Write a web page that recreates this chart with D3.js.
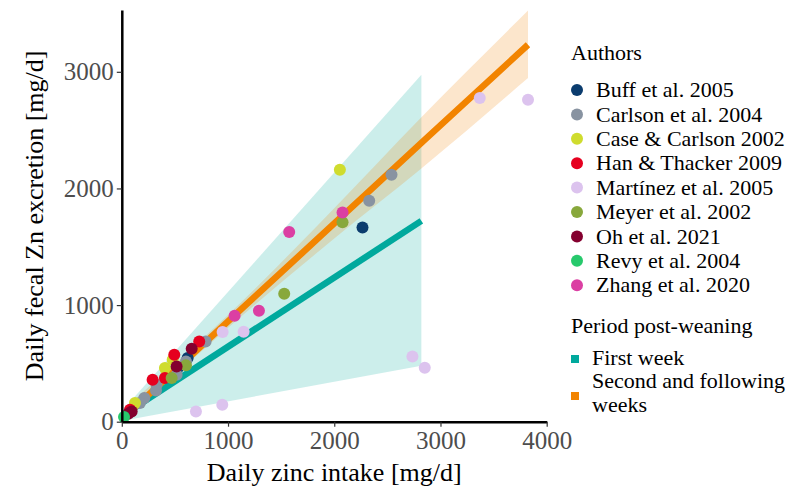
<!DOCTYPE html>
<html>
<head>
<meta charset="utf-8">
<script src="https://cdn.jsdelivr.net/npm/d3@7"></script>
<style>
    body { margin: 0; background: #fff; }
    svg text { font-family: "Liberation Serif", Tinos, "Times New Roman", "Nimbus Roman", "DejaVu Serif", serif !important; }
</style>
</head>
<body>
<div id="chart"></div>
<script>
// daily zinc intake vs daily fecal zinc excretion, one array of [intake, excretion] per study
const buff = [[2266, 1666], [620, 546], [529, 463]];
const carlson = [[2539, 2117], [2329, 1894], [789, 688], [604, 517], [516, 403], [328, 317], [322, 268], [212, 203], [171, 160]];
const caseCarlson = [[2053, 2160], [479, 531], [406, 460], [124, 160]];
const hanThacker = [[729, 688], [494, 574], [406, 374], [290, 360], [77, 103]];
const martinez = [[949, 769], [1147, 771], [2736, 560], [2852, 463], [946, 146], [698, 88], [3370, 2775], [3824, 2760]];
const meyer = [[2078, 1711], [1529, 1097], [604, 483], [469, 374]];
const oh = [[658, 626], [516, 474], [93, 88], [61, 68]];
const revy = [[21, 40]];
const zhang = [[2078, 1794], [1576, 1626], [1062, 909], [1291, 951]];

const authorNames = ["Buff et al. 2005", "Carlson et al. 2004", "Case & Carlson 2002", "Han & Thacker 2009",
    "Martínez et al. 2005", "Meyer et al. 2002", "Oh et al. 2021", "Revy et al. 2004", "Zhang et al. 2020"];
const authorPoints = [buff, carlson, caseCarlson, hanThacker, martinez, meyer, oh, revy, zhang];
const authorColors = ["#0b3c6e", "#8893a1", "#cfdc2e", "#e6001f", "#dcc3ee", "#88a83c", "#84002f", "#27c96c", "#db3fa3"];

// fitted lines and confidence ribbons
const firstWeekIntake = [20, 2820];
const firstWeekFit = [62, 1722];
const firstWeekLower = [10, 480];
const firstWeekUpper = [110, 2975];

const laterIntake = [20, 1000, 2000, 2820, 3824];
const laterFit = [37, 860, 1700, 2390, 3232];
const laterLower = [0, 805, 1570, 2170, 2946];
const laterUpper = [110, 915, 1830, 2610, 3525];

const periodNames = ["First week", "Second and following weeks"];
const periodColors = ["#00a99d", "#f28400"];

const xTicks = [0, 1000, 2000, 3000, 4000];
const yTicks = [0, 1000, 2000, 3000];

const serif = "'Liberation Serif', Tinos, 'Times New Roman', 'Nimbus Roman', 'DejaVu Serif', serif";

let width = 795, height = 490;
let margin = {top: 10, left: 121.8, right: 248.3, bottom: 68.3};

let svg = d3.select("#chart")
    .append("svg")
    .attr("width", width)
    .attr("height", height)
    .attr("font-family", serif);

let x = d3.scaleLinear()
    .domain([0, 4000])
    .range([margin.left, width - margin.right]);
let y = d3.scaleLinear()
    .domain([0, 3530])
    .range([height - margin.bottom, margin.top]);

//clip the ribbons to the panel
svg.append("clipPath")
    .attr("id", "panel")
    .append("rect")
    .attr("x", x(0))
    .attr("y", y(3530))
    .attr("width", x(4000) - x(0))
    .attr("height", y(0) - y(3530));

let plot = svg.append("g").attr("clip-path", "url(#panel)");

function ribbon(xs, lo, hi) {
    return xs.map(function(v, i) { return {x: v, lo: lo[i], hi: hi[i]}; });
}
let area = d3.area()
    .x(function(d) { return x(d.x); })
    .y0(function(d) { return y(d.lo); })
    .y1(function(d) { return y(d.hi); })
    .curve(d3.curveMonotoneX);

plot.append("path")
    .attr("d", area(ribbon(firstWeekIntake, firstWeekLower, firstWeekUpper)))
    .style("fill", periodColors[0])
    .style("fill-opacity", 0.2);
plot.append("path")
    .attr("d", area(ribbon(laterIntake, laterLower, laterUpper)))
    .style("fill", periodColors[1])
    .style("fill-opacity", 0.2);

//regression lines
let line = d3.line()
    .x(function(d) { return x(d[0]); })
    .y(function(d) { return y(d[1]); })
    .curve(d3.curveMonotoneX);

plot.append("path")
    .attr("d", line(d3.zip(firstWeekIntake, firstWeekFit)))
    .style("stroke", periodColors[0])
    .style("stroke-width", 6.5)
    .style("fill", "none");
plot.append("path")
    .attr("d", line(d3.zip(laterIntake, laterFit)))
    .style("stroke", periodColors[1])
    .style("stroke-width", 6.5)
    .style("fill", "none");

//points
svg.selectAll("myDots")
    .data(authorPoints)
    .enter()
    .append("g")
    .style("fill", function(d, i) { return authorColors[i]; })
    .selectAll("circle")
    .data(function(d) { return d; })
    .enter()
    .append("circle")
    .attr("cx", function(d) { return x(d[0]); })
    .attr("cy", function(d) { return y(d[1]); })
    .attr("r", 6);

//axes
let xAxis = svg.append("g")
    .attr("transform", "translate(0," + y(0) + ")")
    .call(d3.axisBottom(x).tickValues(xTicks).tickFormat(d3.format("d")).tickSize(5).tickSizeOuter(0).tickPadding(5));
let yAxis = svg.append("g")
    .attr("transform", "translate(" + x(0) + ",0)")
    .call(d3.axisLeft(y).tickValues(yTicks).tickFormat(d3.format("d")).tickSize(5).tickSizeOuter(0).tickPadding(3));

[xAxis, yAxis].forEach(function(a) {
    a.attr("font-family", serif);
    a.select(".domain").style("stroke", "#000").style("stroke-width", 2.5);
    a.selectAll(".tick line").style("stroke", "#333").style("stroke-width", 1.2);
    a.selectAll(".tick text")
        .style("font-size", "25px")
        .style("fill", "#4d4d4d");
});

//axis titles
svg.append("text")
    .attr("x", (x(0) + x(4000)) / 2)
    .attr("y", 481)
    .attr("text-anchor", "middle")
    .style("font-size", "26px")
    .style("fill", "#000")
    .text("Daily zinc intake [mg/d]");
svg.append("text")
    .attr("transform", "translate(43," + (y(0) + y(3530)) / 2 + ") rotate(-90)")
    .attr("text-anchor", "middle")
    .style("font-size", "26px")
    .style("fill", "#000")
    .text("Daily fecal Zn excretion [mg/d]");

//legend: authors
let legend = svg.append("g");
legend.append("text")
    .attr("x", 571)
    .attr("y", 60)
    .style("font-size", "22px")
    .text("Authors");

let items = legend.selectAll("myLegend")
    .data(authorNames)
    .enter()
    .append("g")
    .attr("transform", function(d, i) { return "translate(577," + (90 + i * 24.4) + ")"; });
items.append("circle")
    .attr("r", 6)
    .style("fill", function(d, i) { return authorColors[i]; });
items.append("text")
    .attr("x", 19)
    .attr("dy", "0.33em")
    .style("font-size", "22px")
    .text(function(d) { return d; });

//legend: period post-weaning
legend.append("text")
    .attr("x", 571)
    .attr("y", 333)
    .style("font-size", "22px")
    .text("Period post-weaning");

legend.append("rect")
    .attr("x", 571)
    .attr("y", 355)
    .attr("width", 8)
    .attr("height", 8)
    .style("fill", periodColors[0]);
legend.append("text")
    .attr("x", 592)
    .attr("y", 365)
    .style("font-size", "22px")
    .text(periodNames[0]);

legend.append("rect")
    .attr("x", 571)
    .attr("y", 392)
    .attr("width", 8)
    .attr("height", 8)
    .style("fill", periodColors[1]);
legend.append("text")
    .attr("x", 592)
    .attr("y", 388)
    .style("font-size", "22px")
    .text("Second and following");
legend.append("text")
    .attr("x", 592)
    .attr("y", 411.5)
    .style("font-size", "22px")
    .text("weeks");
</script>
</body>
</html>
